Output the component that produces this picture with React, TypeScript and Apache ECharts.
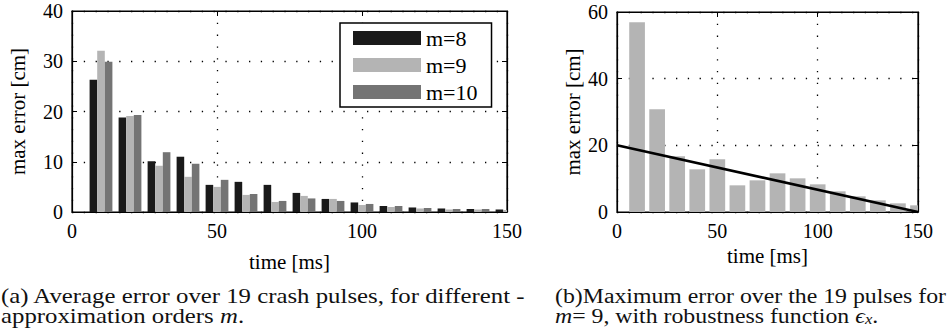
import React, { useEffect, useRef } from "react";
import * as echarts from "echarts";

const categories = [10, 20, 30, 40, 50, 60, 70, 80, 90, 100, 110, 120, 130, 140, 150];
const m8 = [26.3, 18.8, 10.1, 11.0, 5.4, 6.0, 5.4, 3.8, 2.6, 1.9, 1.2, 0.9, 0.7, 0.6, 0.5];
const m9 = [32.1, 19.1, 9.2, 7.0, 5.0, 3.4, 2.0, 3.2, 2.6, 1.4, 1.0, 0.7, 0.5, 0.5, 0.4];
const m10 = [29.9, 19.3, 11.9, 9.6, 6.4, 3.6, 2.2, 2.7, 2.2, 1.6, 1.2, 0.8, 0.6, 0.6, 0.5];
const maxErr = [56.9, 30.8, 16.7, 12.8, 15.8, 8.0, 9.5, 11.6, 10.1, 8.3, 6.2, 4.7, 3.5, 2.6, 2.0];
const robustT = [0, 150];
const robustV = [20, 0];
const legendNames = ["m=8", "m=9", "m=10"];
const xName = "time [ms]";
const yName = "max error [cm]";

const SERIF = "Liberation Serif";
const C8 = "#1a1a1a";
const C9 = "#b4b4b4";
const C10 = "#747474";

const pair = (xs: number[], ys: number[]) => xs.map((x, i) => [x, ys[i]]);

function baseX(gridIndex: number, nameGap: number) {
  return [
    {
      type: "value",
      gridIndex,
      min: 0,
      max: 150,
      interval: 50,
      axisLine: { show: true, onZero: false, lineStyle: { color: "#000", width: 1.2 } },
      axisTick: { show: true, inside: true, length: 5, lineStyle: { color: "#000" } },
      axisLabel: { color: "#000", fontFamily: SERIF, fontSize: 20, margin: 9 },
      splitLine: { show: true, lineStyle: { color: "#000", width: 1.3, type: [1.3, 10.5] } },
      name: xName,
      nameLocation: "middle",
      nameGap,
      nameTextStyle: { color: "#000", fontFamily: SERIF, fontSize: 21 },
    },
    {
      type: "value",
      gridIndex,
      min: 0,
      max: 150,
      interval: 50,
      position: "top",
      axisLine: { show: true, onZero: false, lineStyle: { color: "#000", width: 1.2 } },
      axisTick: { show: true, inside: true, length: 5, lineStyle: { color: "#000" } },
      axisLabel: { show: false },
      splitLine: { show: false },
    },
  ];
}

function baseY(gridIndex: number, max: number, interval: number, nameGap: number) {
  return [
    {
      type: "value",
      gridIndex,
      min: 0,
      max,
      interval,
      axisLine: { show: true, onZero: false, lineStyle: { color: "#000", width: 1.2 } },
      axisTick: { show: true, inside: true, length: 5, lineStyle: { color: "#000" } },
      axisLabel: { color: "#000", fontFamily: SERIF, fontSize: 20, margin: 9 },
      splitLine: { show: true, lineStyle: { color: "#000", width: 1.3, type: [1.3, 10.5] } },
      name: yName,
      nameLocation: "middle",
      nameRotate: 90,
      nameGap,
      nameTextStyle: { color: "#000", fontFamily: SERIF, fontSize: 21 },
    },
    {
      type: "value",
      gridIndex,
      min: 0,
      max,
      interval,
      position: "right",
      axisLine: { show: true, onZero: false, lineStyle: { color: "#000", width: 1.2 } },
      axisTick: { show: true, inside: true, length: 5, lineStyle: { color: "#000" } },
      axisLabel: { show: false },
      splitLine: { show: false },
    },
  ];
}

function barRenderer(width: number, offset: number, color: string) {
  return (params: any, api: any) => {
    const x = api.value(0);
    const y = api.value(1);
    const base = api.coord([x, 0]);
    const top = api.coord([x, y]);
    const cs = params.coordSys;
    const rect = echarts.graphic.clipRectByRect(
      { x: base[0] + offset - width / 2, y: top[1], width, height: base[1] - top[1] },
      { x: cs.x, y: cs.y, width: cs.width, height: cs.height }
    );
    if (!rect) return null;
    return { type: "rect", shape: rect, style: { fill: color } };
  };
}

function barSeries(name: string, xi: number, data: number[], width: number, offset: number, color: string) {
  return {
    name,
    type: "custom",
    xAxisIndex: xi,
    yAxisIndex: xi,
    data: pair(categories, data),
    encode: { x: 0, y: 1 },
    itemStyle: { color },
    renderItem: barRenderer(width, offset, color),
  };
}

export default function App() {
  const ref = useRef<HTMLDivElement>(null);
  useEffect(() => {
    if (!ref.current) return;
    const chart = echarts.init(ref.current, undefined, { renderer: "svg" });
    const capStyle = {
      fontFamily: SERIF,
      fontSize: 20,
      fill: "#111",
      verticalAlign: "middle",
      align: "left",
    };
    const rich = {
      i: { fontFamily: SERIF, fontSize: 20, fontStyle: "italic", fill: "#111" },
      s: { fontFamily: SERIF, fontSize: 14, fontStyle: "italic", fill: "#111", verticalAlign: "bottom" },
    };
    const bw = 7.6;
    const option: any = {
      animation: false,
      backgroundColor: "#fff",
      grid: [
        { left: 72, top: 11, width: 435, height: 201, show: true, borderColor: "#000", borderWidth: 1.2, backgroundColor: "transparent" },
        { left: 617, top: 12, width: 301, height: 200, show: true, borderColor: "#000", borderWidth: 1.2, backgroundColor: "transparent" },
      ],
      xAxis: [...baseX(0, 39), ...baseX(1, 25)],
      yAxis: [...baseY(0, 40, 10, 44), ...baseY(1, 60, 20, 34)],
      legend: {
        left: 340,
        top: 23,
        orient: "vertical",
        icon: "rect",
        itemWidth: 68,
        itemHeight: 14,
        itemGap: 5,
        padding: [4, 14, 4, 13],
        borderColor: "#000",
        borderWidth: 1.5,
        backgroundColor: "#fff",
        textStyle: { fontFamily: SERIF, fontSize: 22, color: "#000", lineHeight: 14 },
        data: legendNames,
      },
      series: [
        barSeries(legendNames[0], 0, m8, bw, -bw, C8),
        barSeries(legendNames[1], 0, m9, bw, 0, C9),
        barSeries(legendNames[2], 0, m10, bw, bw, C10),
        barSeries("max error m=9", 2, maxErr, 15.7, 0, C9),
        { name: "robustness", type: "line", xAxisIndex: 2, yAxisIndex: 2, data: pair(robustT, robustV), symbol: "none", lineStyle: { color: "#000", width: 2.6 }, z: 5, clip: false },
      ],
      graphic: [
        { type: "text", x: 1, y: 296, scaleX: 1.24, style: { ...capStyle, text: "(a) Average error over 19 crash pulses, for different -" } },
        { type: "text", x: 1, y: 316, scaleX: 1.24, style: { ...capStyle, text: "approximation orders {i|m}.", rich } },
        { type: "text", x: 555, y: 296, scaleX: 1.19, style: { ...capStyle, text: "(b)Maximum error over the 19 pulses for" } },
        { type: "text", x: 555, y: 316, scaleX: 1.19, style: { ...capStyle, text: "{i|m}= 9, with robustness function {i|ϵ}{s|x}.", rich } },
      ],
    };
    chart.setOption(option);
    return () => chart.dispose();
  }, []);
  return <div ref={ref} style={{ position: "fixed", left: 0, top: 0, width: 949, height: 330 }} />;
}
